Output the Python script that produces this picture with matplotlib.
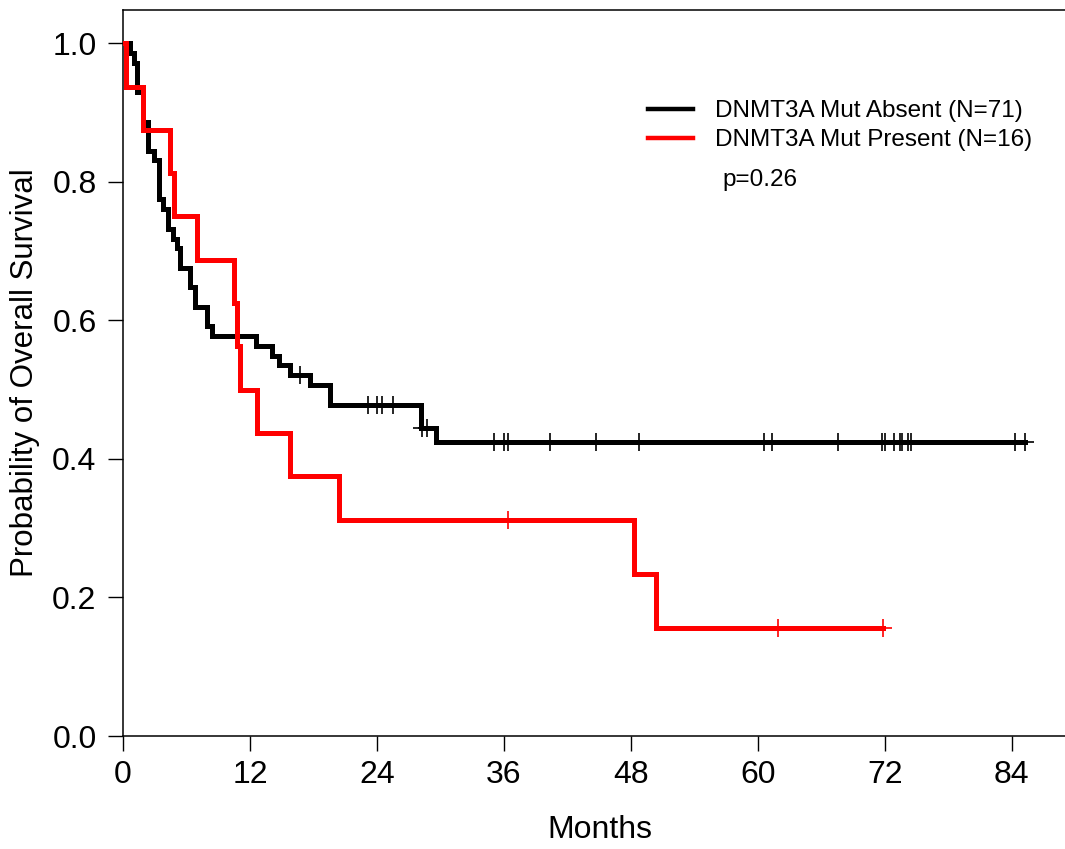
import numpy as np
import matplotlib
matplotlib.use("Agg")
import matplotlib.pyplot as plt

plt.rcParams['font.family'] = ['Liberation Sans', 'DejaVu Sans']

# ---- data ----
black_label = "DNMT3A Mut Absent (N=71)"
red_label = "DNMT3A Mut Present (N=16)"

black_times = [0.7, 1.0, 1.3, 1.9, 2.4, 2.9, 3.4, 3.8, 4.3, 4.75, 5.1, 5.4, 6.3, 6.8,
               7.9, 8.4, 12.6, 14.05, 14.7, 15.8, 17.7, 19.6, 28.2, 29.6]
black_surv = [0.986, 0.972, 0.930, 0.887, 0.845, 0.831, 0.775, 0.761, 0.732, 0.718,
              0.704, 0.676, 0.648, 0.620, 0.592, 0.577, 0.563, 0.549, 0.535, 0.521,
              0.507, 0.478, 0.445, 0.424]
black_censor = [16.7, 23.2, 24.0, 24.5, 25.5, 28.3, 28.7, 35.1, 36.0, 36.4, 40.4, 44.7,
                48.8, 60.6, 61.3, 67.6, 71.7, 72.0, 72.9, 73.4, 73.6, 74.2, 74.5,
                84.3, 85.3]
black_end = 85.3

red_times = [0.3, 1.9, 4.4, 4.85, 7.0, 10.5, 10.8, 11.1, 12.7, 15.8, 20.45, 48.3, 50.4]
red_surv = [0.9375, 0.875, 0.8125, 0.75, 0.6875, 0.625, 0.5625, 0.5, 0.4375, 0.375,
            0.3125, 0.234, 0.156]
red_censor = [36.35, 61.9, 71.8]
red_end = 71.8

x_ticks = [0, 12, 24, 36, 48, 60, 72, 84]
y_ticks = [0.0, 0.2, 0.4, 0.6, 0.8, 1.0]
p_text = "p=0.26"

# ---- figure ----
W, H = 1065, 849
fig = plt.figure(figsize=(W / 100, H / 100), dpi=100)
ax_left, ax_right, ax_top, ax_bottom = 123, 1077, 10, 736
ax = fig.add_axes([ax_left / W, 1 - ax_bottom / H, (ax_right - ax_left) / W,
                   (ax_bottom - ax_top) / H])


def km_curve(times, surv, end):
    t = np.r_[0.0, np.asarray(times, float), end]
    s = np.r_[1.0, np.asarray(surv, float), surv[-1]]
    return t, s


def level_at(times, surv, ct):
    idx = np.searchsorted(np.asarray(times), np.asarray(ct), side='right')
    levels = np.r_[1.0, np.asarray(surv)]
    return levels[idx]


lw = 3.6
for times, surv, cens, end, col, lab in [
        (black_times, black_surv, black_censor, black_end, 'black', black_label),
        (red_times, red_surv, red_censor, red_end, '#ff0000', red_label)]:
    t, s = km_curve(times, surv, end)
    ax.step(t, s, where='post', color=col, lw=lw, solid_joinstyle='miter',
            label=lab, zorder=3)
    ax.plot(cens, level_at(times, surv, cens), linestyle='none', marker='+',
            markersize=13.5, markeredgewidth=1.2, color=col, zorder=4)

ax.set_xlim(0, (ax_right - ax_left) / 10.58)
ax.set_ylim(0, 1 + (736 - 43.3) ** -1 * 33.3)
ax.set_xticks(x_ticks)
ax.set_xticklabels([str(v) for v in x_ticks])
ax.set_yticks(y_ticks)
ax.set_yticklabels([f"{v:.1f}" for v in y_ticks])
ax.tick_params(direction='out', length=10.5, width=1.0, labelsize=23, pad=8.5,
               color='black')
ax.tick_params(axis='x', pad=7)
for sp in ['left', 'top', 'bottom']:
    ax.spines[sp].set_linewidth(1.1)
ax.spines['right'].set_visible(False)

ax.set_xlabel("Months", fontsize=23, labelpad=18)
ax.set_ylabel("Probability of Overall Survival", fontsize=22.5, labelpad=9)

leg = ax.legend(loc='upper left', bbox_to_anchor=(648 / W, 1 - 100 / H),
                bbox_transform=fig.transFigure, frameon=False, fontsize=17.5,
                handlelength=1.85, handletextpad=0.9, borderpad=0,
                borderaxespad=0, labelspacing=0.3)
for h in leg.get_lines():
    h.set_linewidth(3.2)

fig.text(722 / W, 1 - 180 / H, p_text, fontsize=17.5, ha='left', va='center')

fig.savefig("out.png", dpi=100)
